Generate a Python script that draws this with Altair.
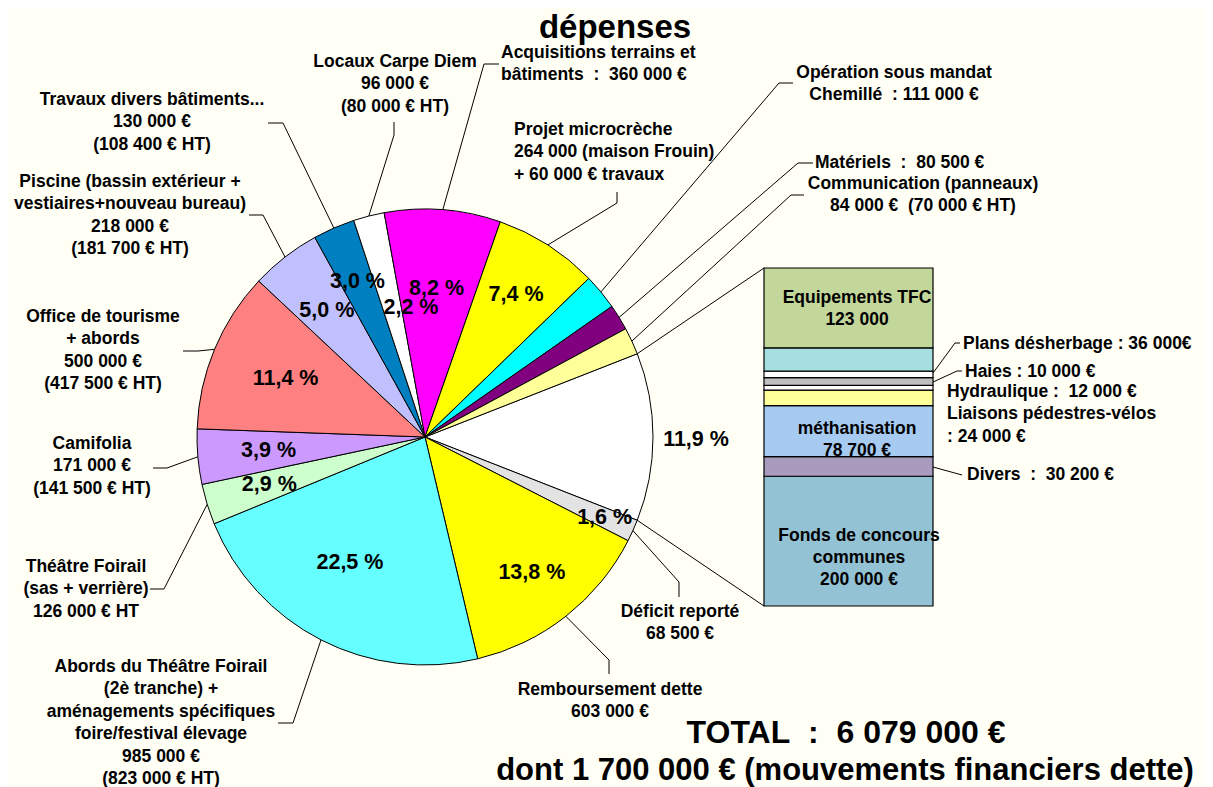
import math
import altair as alt
import pandas as pd

# ---------------- data ----------------
pie_names = [
    "Autres (détail ci-contre)", "Déficit reporté", "Remboursement dette",
    "Abords du Théâtre Foirail", "Théâtre Foirail", "Camifolia",
    "Office de tourisme", "Piscine", "Travaux divers bâtiments",
    "Locaux Carpe Diem", "Acquisitions terrains et bâtiments",
    "Projet microcrèche", "Opération sous mandat Chemillé",
    "Matériels", "Communication (panneaux)",
]
pie_values = [521000, 68500, 603000, 985000, 126000, 171000, 500000, 218000,
              130000, 96000, 360000, 324000, 111000, 80500, 84000]
pie_labels = [
    [],
    ["Déficit reporté", "68 500 €"],
    ["Remboursement dette", "603 000 €"],
    ["Abords du Théâtre Foirail", "(2è tranche) +", "aménagements spécifiques",
     "foire/festival élevage", "985 000 €", "(823 000 € HT)"],
    ["Théâtre Foirail", "(sas + verrière)", "126 000 € HT"],
    ["Camifolia", "171 000 €", "(141 500 € HT)"],
    ["Office de tourisme", "+ abords", "500 000 €", "(417 500 € HT)"],
    ["Piscine (bassin extérieur +", "vestiaires+nouveau bureau)", "218 000 €", "(181 700 € HT)"],
    ["Travaux divers bâtiments...", "130 000 €", "(108 400 € HT)"],
    ["Locaux Carpe Diem", "96 000 €", "(80 000 € HT)"],
    ["Acquisitions terrains et", "bâtiments  :  360 000 €"],
    ["Projet microcrèche", " 264 000 (maison Frouin)", " + 60 000 € travaux"],
    ["Opération sous mandat", "Chemillé  : 111 000 €"],
    ["Matériels  :  80 500 €"],
    ["Communication (panneaux)", "84 000 €  (70 000 € HT)"],
]
show_pct = [True] * 12 + [False] * 3

bar_names = ["Equipements TFC", "Plans désherbage", "Haies", "Hydraulique",
             "Non libellé", "Liaisons pédestres-vélos", "méthanisation",
             "Divers", "Fonds de concours communes"]
bar_values = [123000, 36000, 10000, 12000, 7100, 24000, 78700, 30200, 200000]
bar_inside_labels = {
    "Equipements TFC": ["Equipements TFC", "123 000"],
    "méthanisation": ["méthanisation", "78 700 €"],
    "Fonds de concours communes": ["Fonds de concours", "communes", "200 000 €"],
}
bar_outside_labels = {
    "Plans désherbage": ["Plans désherbage : 36 000€"],
    "Haies": ["Haies : 10 000 €"],
    "Hydraulique": ["Hydraulique :  12 000 €"],
    "Liaisons pédestres-vélos": ["Liaisons pédestres-vélos", ": 24 000 €"],
    "Divers": ["Divers  :  30 200 €"],
}

title_text = "dépenses"
total_text = "TOTAL  :  6 079 000 €"
sub_text = "dont 1 700 000 € (mouvements financiers dette)"

# ---------------- styles ----------------
FONT = "Liberation Sans"
BG = "#FFFFF6"
pie_colors = ["#FFFFFF", "#E3E3E3", "#FFFF00", "#66FFFF", "#CCFFCC", "#CC99FF",
              "#FF8080", "#C0C0FF", "#0080C0", "#FFFFFF", "#FF00FF", "#FFFF00",
              "#00FFFF", "#800080", "#FFFF99"]
bar_colors = ["#C4D79B", "#A5DFDF", "#FFFFFF", "#BFBFBF", "#FFFFFF", "#FFFF99",
              "#A6CAF0", "#A99BBD", "#93C2D4"]

# ---------------- layout (image pixel coordinates) ----------------
OFF = 8                      # page margin
W, H = 1197, 779
CX, CY, R = 425, 437, 228    # pie centre and radius
LH = 22.4                    # label line height
LABEL_SIZE = 17.5
PCT_SIZE = 21.5
BAR_X0, BAR_X1, BAR_TOP, BAR_BOT = 764, 933, 268, 606

pct_radius = [271, 197, 173, 147, 163, 157, 151, 160, 169, 130, 148, 169, 0, 0, 0]
pct_nudge = [(0, 3), (0, 0), (0, 0), (-8, -5), (0, 0), (0, 0), (0, 0), (0, 0),
             (0, 0), (18, -3), (0, 0), (0, 0), (0, 0), (0, 0), (0, 0)]
# label block: (x, y of first line, align), leader elbow, leader end
label_pos = {
    1: ((680, 612, "center"), (679, 582), (679, 597)),
    2: ((610, 690, "center"), (609, 660), (609, 674)),
    3: ((161, 667, "center"), (293, 723), (278, 723)),
    4: ((86, 567, "center"), (164, 589), (150, 589)),
    5: ((92, 444, "center"), (167, 468), (153, 468)),
    6: ((103, 317, "center"), (198, 351), (183, 351)),
    7: ((130, 182, "center"), (263, 215), (249, 215)),
    8: ((152, 100, "center"), (283, 123), (268, 123)),
    9: ((395, 62, "center"), (394, 135), (394, 122)),
    10: ((501, 53, "left"), (484, 64), (499, 64)),
    11: ((514, 130, "left"), (617, 203), (617, 192)),
    12: ((894, 73, "center"), (779, 83), (793, 83)),
    13: ((815, 163, "left"), (798, 163), (813, 163)),
    14: ((923, 184, "center"), (791, 195), (804, 195)),
}
bar_inside_pos = {
    "Equipements TFC": (857, 298),
    "méthanisation": (857, 429),
    "Fonds de concours communes": (859, 536),
}
bar_outside_pos = {
    "Plans désherbage": ((963, 344), [(933, 373), (955, 343), (960, 343)]),
    "Haies": ((965, 372), [(933, 382), (957, 371), (962, 371)]),
    "Hydraulique": ((947, 392), []),
    "Liaisons pédestres-vélos": ((947, 414), []),
    "Divers": ((967, 475), [(933, 467), (962, 475)]),
}


def nb(s):
    return s.replace(" ", "\u00a0")


# ---------------- derived geometry ----------------
n = len(pie_values)
total = float(sum(pie_values))
t0 = math.pi / 2 - math.pi * pie_values[0] / total   # "other" slice centred at 3 o'clock
cum = 0.0
mids = []
for v in pie_values:
    mids.append(t0 + 2 * math.pi * (cum + v / 2) / total)
    cum += v


def polar(theta, r):
    return CX + r * math.sin(theta), CY - r * math.cos(theta)


pie_df = pd.DataFrame({"name": pie_names, "value": pie_values, "idx": list(range(n))})

# percentage labels
pct_rows = []
for i in range(n):
    if not show_pct[i]:
        continue
    x, y = polar(mids[i], pct_radius[i])
    txt = f"{pie_values[i] / total * 100:.1f}".replace(".", ",") + " %"
    pct_rows.append({"t": nb(txt), "x": x + pct_nudge[i][0] - OFF, "y": y + pct_nudge[i][1] - OFF})
pct_df = pd.DataFrame(pct_rows)

# label text rows and leader lines
text_rows = []
line_rows = []


def add_block(lines, x, y, align, size, lh=LH):
    for k, t in enumerate(lines):
        text_rows.append({"t": nb(t), "x": x - OFF, "y": y + k * lh - OFF,
                          "align": align, "size": size})


def add_line(key, pts):
    for k, (x, y) in enumerate(pts):
        line_rows.append({"key": key, "pt": k, "x": x - OFF, "y": y - OFF})


for i, ((lx, ly, al), elbow, end) in label_pos.items():
    add_block(pie_labels[i], lx, ly, al, LABEL_SIZE)
    add_line(f"p{i}", [polar(mids[i], R), elbow, end])

# connectors pie -> bar
add_line("c_top", [polar(t0, R), (BAR_X0, BAR_TOP)])
add_line("c_bot", [polar(t0 + 2 * math.pi * pie_values[0] / total, R), (BAR_X0, BAR_BOT)])

for name, lines in bar_inside_labels.items():
    x, y = bar_inside_pos[name]
    add_block(lines, x, y, "center", LABEL_SIZE, lh=22)
for name, lines in bar_outside_labels.items():
    (x, y), pts = bar_outside_pos[name]
    add_block(lines, x, y, "left", LABEL_SIZE, lh=23)
    if pts:
        add_line(f"b_{name}", pts)

add_block([title_text], 615, 28, "center", 33)
add_block([total_text], 846, 733, "center", 32)
add_block([sub_text], 845, 771, "center", 31)

text_df = pd.DataFrame(text_rows)
line_df = pd.DataFrame(line_rows)

# bar table (stacked bottom -> top)
bar_df = pd.DataFrame({"name": bar_names, "value": bar_values})
bar_df["bidx"] = list(range(len(bar_names) - 1, -1, -1))
bar_df = bar_df.sort_values("bidx")
bar_df["b1"] = bar_df["value"].cumsum()
bar_df["b0"] = bar_df["b1"] - bar_df["value"]
bar_total = float(sum(bar_values))

# ---------------- chart ----------------
px = lambda f: alt.X(f, type="quantitative", scale=None, axis=None)
py = lambda f: alt.Y(f, type="quantitative", scale=None, axis=None)

arcs = alt.Chart(pie_df).mark_arc(radius=R, stroke="#000000", strokeWidth=1).encode(
    theta=alt.Theta("value:Q", stack=True,
                    scale=alt.Scale(domain=[0, total], range=[t0, t0 + 2 * math.pi])),
    order=alt.Order("idx:Q", sort="ascending"),
    color=alt.Color("name:N", scale=alt.Scale(domain=pie_names, range=pie_colors), legend=None),
    x=alt.value(CX - OFF),
    y=alt.value(CY - OFF),
)

bars = alt.Chart(bar_df).mark_rect(stroke="#000000", strokeWidth=1.2).encode(
    y=alt.Y("b0:Q", scale=alt.Scale(domain=[0, bar_total], range=[BAR_BOT - OFF, BAR_TOP - OFF]), axis=None),
    y2="b1:Q",
    x=alt.value(BAR_X0 - OFF),
    x2=alt.value(BAR_X1 - OFF),
    color=alt.Color("name:N", scale=alt.Scale(domain=bar_names, range=bar_colors), legend=None),
)

leaders = alt.Chart(line_df).mark_line(color="#000000", strokeWidth=1).encode(
    x=px("x"), y=py("y"), detail="key:N", order=alt.Order("pt:Q"),
)

pcts = alt.Chart(pct_df).mark_text(
    font=FONT, fontWeight="bold", fontSize=PCT_SIZE, color="#000000", baseline="middle", align="center"
).encode(x=px("x"), y=py("y"), text="t:N")

text_layers = []
for al in ["center", "left"]:
    sub = text_df[text_df["align"] == al]
    text_layers.append(
        alt.Chart(sub).mark_text(font=FONT, fontWeight="bold", color="#000000",
                                 baseline="middle", align=al).encode(
            x=px("x"), y=py("y"), text="t:N",
            size=alt.Size("size:Q", scale=None, legend=None),
        )
    )

chart = alt.layer(arcs, bars, leaders, pcts, *text_layers).resolve_scale(
    color="independent", y="independent", x="independent", size="independent"
).properties(
    width=W, height=H, padding=0, autosize=alt.AutoSizeParams(type="none"), background=BG,
).configure_view(stroke=None)

chart.save("out.html", embed_options={"renderer": "svg", "actions": False})
